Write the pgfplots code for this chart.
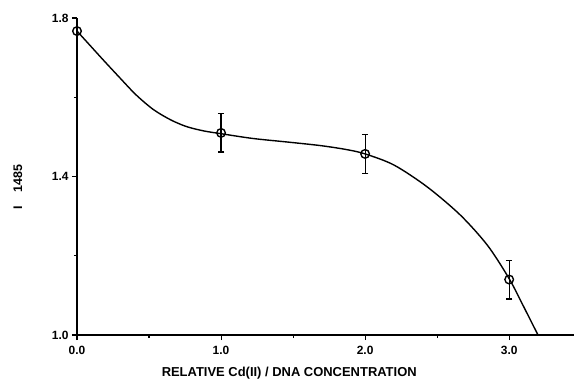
\documentclass[border=0pt]{standalone}
\usepackage{fontspec}
\setmainfont{Liberation Sans}
\usepackage{pgfplots}
\pgfplotsset{compat=1.18}
\newcommand\tl{\fontsize{12}{14}\selectfont\bfseries}
\begin{document}
\begin{tikzpicture}
\begin{axis}[
  scale only axis,
  width=497bp, height=317bp,
  at={(0,0)}, anchor=south west,
  xmin=0, xmax=3.45, ymin=1.0, ymax=1.8,
  axis lines=left,
  axis line style={line width=1.4pt, -},
  xtick={0,1,2,3}, xticklabels={{\tl 0.0},{\tl 1.0},{\tl 2.0},{\tl 3.0}},
  minor xtick={0.5,1.5,2.5},
  ytick={1.0,1.4,1.8}, yticklabels={{\tl 1.0},{\tl 1.4},{\tl 1.8}},
  minor ytick={1.2,1.6},
  tick align=outside,
  major tick length=5bp, minor tick length=3bp,
  tick style={line width=1.1pt, black},
  tick label style={font=\tl},
  /pgf/number format/assume math mode=true,
  xticklabel style={yshift=-3bp},
  yticklabel style={xshift=0bp},
  xlabel={\fontsize{13}{15}\selectfont\bfseries RELATIVE Cd(II) / DNA CONCENTRATION},
  ylabel={\fontsize{12.5}{14}\selectfont\bfseries I\hspace{1.1em}1485},
  xlabel style={at={(axis description cs:0.427,-0.12)}, anchor=center},
  ylabel style={at={(axis description cs:-0.119,0.467)}, anchor=center},
  clip=false,
]
\addplot[black, line width=1.4pt, smooth, tension=0.5] coordinates {
(0,1.767) (0.09,1.731) (0.18,1.695) (0.30,1.648) (0.41,1.606) (0.53,1.569) (0.65,1.543) (0.76,1.526) (0.88,1.515) (1.0,1.508) (1.22,1.496) (1.46,1.487) (1.69,1.478) (1.87,1.468) (2.0,1.457) (2.20,1.429) (2.43,1.374) (2.66,1.303) (2.85,1.226) (3.0,1.142) (3.10,1.072) (3.2,1.0)
};
\addplot[black, only marks, line width=1.2pt, mark=o, mark size=4.3bp,
  mark options={fill=white, line width=1.4pt},
  error bars/.cd, y dir=both, y explicit,
  error bar style={line width=1.2pt},
  error mark options={rotate=90, mark size=3.3bp, line width=1.2pt}]
  coordinates {
  (0,1.767)
  (1,1.510) +- (0,0.048)
  (2,1.457) +- (0,0.049)
  (3,1.140) +- (0,0.049)
};
\end{axis}
\pgfresetboundingbox
\path[use as bounding box] (-77bp,-48bp) rectangle (497bp,335bp);
\end{tikzpicture}
\end{document}
